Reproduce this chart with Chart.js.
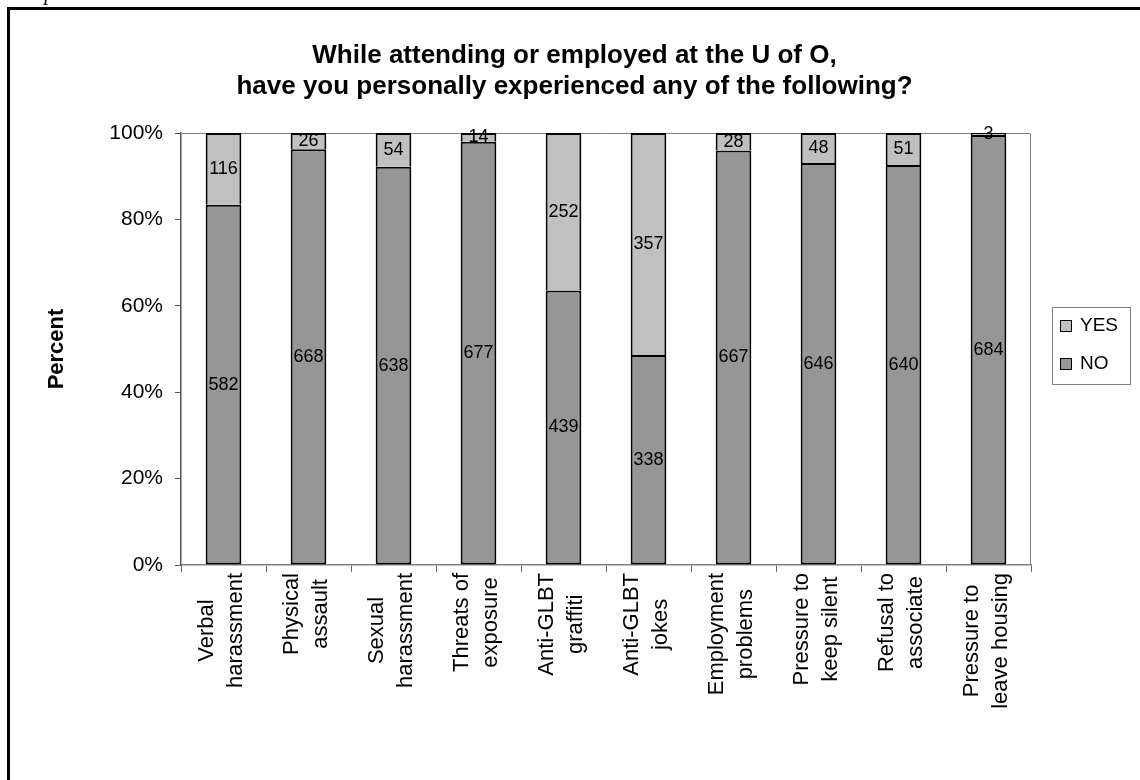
<!DOCTYPE html>
<html>
<head>
<meta charset="utf-8">
<script src="https://cdn.jsdelivr.net/npm/chart.js@4.4.1/dist/chart.umd.min.js"></script>
<style>
  html, body { margin: 0; padding: 0; background: #fff; }
  body { width: 1140px; height: 780px; position: relative; overflow: hidden; }
  .frame { position: absolute; left: 7px; top: 7px; width: 1200px; height: 800px; border: 3px solid #000; }
  .caption { position: absolute; left: 12px; top: -18px; font: italic 20px "Liberation Serif", serif; line-height: 22px; }
  canvas { position: absolute; left: 0; top: 0; }
</style>
</head>
<body>
<div class="caption">Graph</div>
<div class="frame"></div>
<canvas id="chart" width="1140" height="780"></canvas>
<script>
const categories = [
  ["Verbal", "harassment"],
  ["Physical", "assault"],
  ["Sexual", "harassment"],
  ["Threats of", "exposure"],
  ["Anti-GLBT", "graffiti"],
  ["Anti-GLBT", "jokes"],
  ["Employment", "problems"],
  ["Pressure to", "keep silent"],
  ["Refusal to", "associate"],
  ["Pressure to", "leave housing"]
];
const noCounts = [582, 668, 638, 677, 439, 338, 667, 646, 640, 684];
const yesCounts = [116, 26, 54, 14, 252, 357, 28, 48, 51, 3];
const yTicks = [0, 20, 40, 60, 80, 100];

const totals = noCounts.map((n, i) => n + yesCounts[i]);
const noPct = noCounts.map((n, i) => n / totals[i] * 100);
const yesPct = yesCounts.map((n, i) => n / totals[i] * 100);

const FONT = '"Liberation Sans", Arial, sans-serif';
const noColor = "#969696";
const yesColor = "#c0c0c0";

// grey frame on top/right of the plot area
const plotFrame = {
  id: "plotFrame",
  beforeDatasetsDraw(chart) {
    const { ctx, chartArea: a } = chart;
    ctx.save();
    ctx.strokeStyle = "#808080";
    ctx.lineWidth = 1;
    ctx.beginPath();
    ctx.moveTo(a.left, a.top + 0.5);
    ctx.lineTo(a.right - 0.5, a.top + 0.5);
    ctx.lineTo(a.right - 0.5, a.bottom);
    ctx.stroke();
    ctx.restore();
  }
};

// counts written in the middle of each segment
const barValues = {
  id: "barValues",
  afterDatasetsDraw(chart) {
    const ctx = chart.ctx;
    const counts = [noCounts, yesCounts];
    ctx.save();
    ctx.font = "18px " + FONT;
    ctx.fillStyle = "#000";
    ctx.textAlign = "center";
    ctx.textBaseline = "middle";
    chart.data.datasets.forEach((ds, i) => {
      chart.getDatasetMeta(i).data.forEach((bar, j) => {
        const p = bar.getProps(["x", "y", "base"], true);
        ctx.fillText(String(counts[i][j]), p.x, (p.y + p.base) / 2);
      });
    });
    ctx.restore();
  }
};

// vertical two-line category labels, lines centred on each other
const catLabels = {
  id: "catLabels",
  afterDraw(chart) {
    const ctx = chart.ctx;
    const xs = chart.scales.x;
    const top = chart.chartArea.bottom + 8;
    const lineGap = 29;
    ctx.save();
    ctx.font = "22px " + FONT;
    ctx.fillStyle = "#000";
    ctx.textAlign = "center";
    ctx.textBaseline = "middle";
    categories.forEach((lines, j) => {
      const x = xs.getPixelForValue(j) - 2;
      const w = Math.max(...lines.map(t => ctx.measureText(t).width));
      ctx.save();
      ctx.translate(x, top);
      ctx.rotate(-Math.PI / 2);
      lines.forEach((t, k) => {
        ctx.fillText(t, -w / 2, (k - (lines.length - 1) / 2) * lineGap);
      });
      ctx.restore();
    });
    ctx.restore();
  }
};

// boxed legend at the right
const sideLegend = {
  id: "sideLegend",
  afterDraw(chart) {
    const ctx = chart.ctx;
    const a = chart.chartArea;
    const left = a.right + 21, top = 307, w = 78, h = 77;
    const items = chart.data.datasets.slice().reverse();
    ctx.save();
    ctx.strokeStyle = "#808080";
    ctx.lineWidth = 1;
    ctx.strokeRect(left + 0.5, top + 0.5, w, h);
    ctx.font = "19px " + FONT;
    ctx.textBaseline = "middle";
    items.forEach((ds, k) => {
      const cy = top + 19 + k * 38;
      ctx.fillStyle = ds.backgroundColor;
      ctx.fillRect(left + 8, cy - 6, 12, 12);
      ctx.strokeStyle = "#000";
      ctx.strokeRect(left + 8.5, cy - 5.5, 11, 11);
      ctx.fillStyle = "#000";
      ctx.fillText(ds.label, left + 28, cy);
    });
    ctx.restore();
  }
};

new Chart(document.getElementById("chart"), {
  type: "bar",
  data: {
    labels: categories,
    datasets: [
      {
        label: "NO",
        data: noPct,
        backgroundColor: noColor,
        borderColor: "#000",
        borderWidth: { top: 2, left: 2, right: 2, bottom: 2 },
        borderSkipped: false,
        xAxisID: "x",
        yAxisID: "y",
        categoryPercentage: 1,
        barPercentage: 0.42
      },
      {
        label: "YES",
        data: yesPct,
        backgroundColor: yesColor,
        borderColor: "#000",
        borderWidth: { top: 2, left: 2, right: 2, bottom: 0 },
        borderSkipped: false,
        xAxisID: "x",
        yAxisID: "y",
        categoryPercentage: 1,
        barPercentage: 0.42
      }
    ]
  },
  options: {
    responsive: false,
    animation: false,
    devicePixelRatio: 1,
    layout: { padding: { left: 9, right: 0, top: 20, bottom: 0 } },
    plugins: {
      legend: { display: false },
      tooltip: { enabled: false },
      title: {
        display: true,
        text: [
          "While attending or employed at the U of O,",
          "have you personally experienced any of the following?"
        ],
        color: "#000",
        font: { family: FONT, size: 26, weight: "bold", lineHeight: "31px" },
        padding: { top: 20, bottom: 31 }
      }
    },
    scales: {
      x: {
        type: "category",
        stacked: true,
        offset: true,
        grid: {
          offset: true,
          drawOnChartArea: false,
          drawTicks: true,
          tickLength: 7,
          color: "#666"
        },
        border: { color: "#808080", width: 1.5 },
        ticks: { display: false },
        afterFit: s => { s.height = 215; }
      },
      y: {
        type: "linear",
        position: "left",
        stacked: true,
        min: 0,
        max: 100,
        afterBuildTicks: s => { s.ticks = yTicks.map(v => ({ value: v })); },
        grid: {
          drawOnChartArea: false,
          drawTicks: true,
          tickLength: 6,
          color: "#555"
        },
        border: { color: "#555", width: 1.5 },
        ticks: {
          color: "#000",
          padding: 12,
          font: { family: FONT, size: 21 },
          callback: v => v + "%"
        },
        title: {
          display: true,
          text: "Percent",
          color: "#000",
          font: { family: FONT, size: 22, weight: "bold", lineHeight: 1.2 },
          padding: { top: 35, bottom: 0 }
        },
        afterFit: s => { s.width = 172; }
      },
      yRight: {
        type: "linear",
        axis: "y",
        position: "right",
        display: true,
        grid: { display: false },
        border: { display: false },
        ticks: { display: false },
        afterFit: s => { s.width = 109; }
      }
    }
  },
  plugins: [plotFrame, barValues, catLabels, sideLegend]
});
</script>
</body>
</html>
